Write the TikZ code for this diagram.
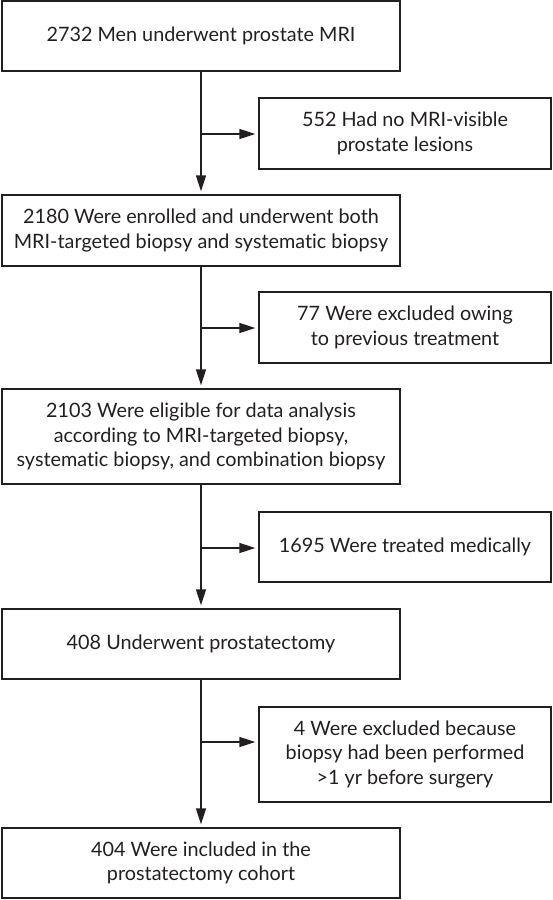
\documentclass[tikz,border=0pt]{standalone}
\usepackage{fontspec}
\setmainfont{Lato}[Ligatures=NoCommon]
\usetikzlibrary{arrows.meta}
\definecolor{ink}{HTML}{231F20}
\begin{document}
\begin{tikzpicture}[x=1pt,y=-1pt,
  box/.style={draw=ink,line width=1.3pt,rectangle,align=center,text=ink,
    font=\fontsize{19.8}{24.5}\selectfont,inner sep=0pt},
  mainbox/.style={box,minimum width=398pt},
  sidebox/.style={box,minimum width=292pt},
  arr/.style={draw=ink,line width=1.3pt,-{Triangle[length=16pt,width=10pt]},shorten >=3pt}]
\useasboundingbox (0,0) rectangle (552,900);
\node[mainbox,minimum height=70pt] (m1) at (201,36) {2732 Men underwent prostate MRI};
\node[sidebox,minimum height=71pt] (s1) at (405,133.5) {552 Had no MRI-visible\\prostate lesions};
\node[mainbox,minimum height=71pt] (m2) at (201,230.5) {2180 Were enrolled and underwent both\\MRI-targeted biopsy and systematic biopsy};
\node[sidebox,minimum height=71pt] (s2) at (405,327.5) {77 Were excluded owing\\to previous treatment};
\node[mainbox,minimum height=95pt] (m3) at (201,436.5) {2103 Were eligible for data analysis\\according to MRI-targeted biopsy,\\systematic biopsy, and combination biopsy};
\node[sidebox,minimum height=70pt] (s3) at (405,547) {1695 Were treated medically};
\node[mainbox,minimum height=70pt] (m4) at (201,644) {408 Underwent prostatectomy};
\node[sidebox,minimum height=95pt] (s4) at (405,754.5) {4 Were excluded because\\biopsy had been performed\\>1 yr before surgery};
\node[mainbox,minimum height=70pt] (m5) at (201,863) {404 Were included in the\\prostatectomy cohort};
\coordinate (b1) at (201,134);
\coordinate (b2) at (201,328);
\coordinate (b3) at (201,548);
\coordinate (b4) at (201,742);
\draw[arr] (m1) -- (m2);
\draw[arr] (m2) -- (m3);
\draw[arr] (m3) -- (m4);
\draw[arr] (m4) -- (m5);
\draw[arr] (b1) -- (b1 -| s1.west);
\draw[arr] (b2) -- (b2 -| s2.west);
\draw[arr] (b3) -- (b3 -| s3.west);
\draw[arr] (b4) -- (b4 -| s4.west);
\end{tikzpicture}
\end{document}
